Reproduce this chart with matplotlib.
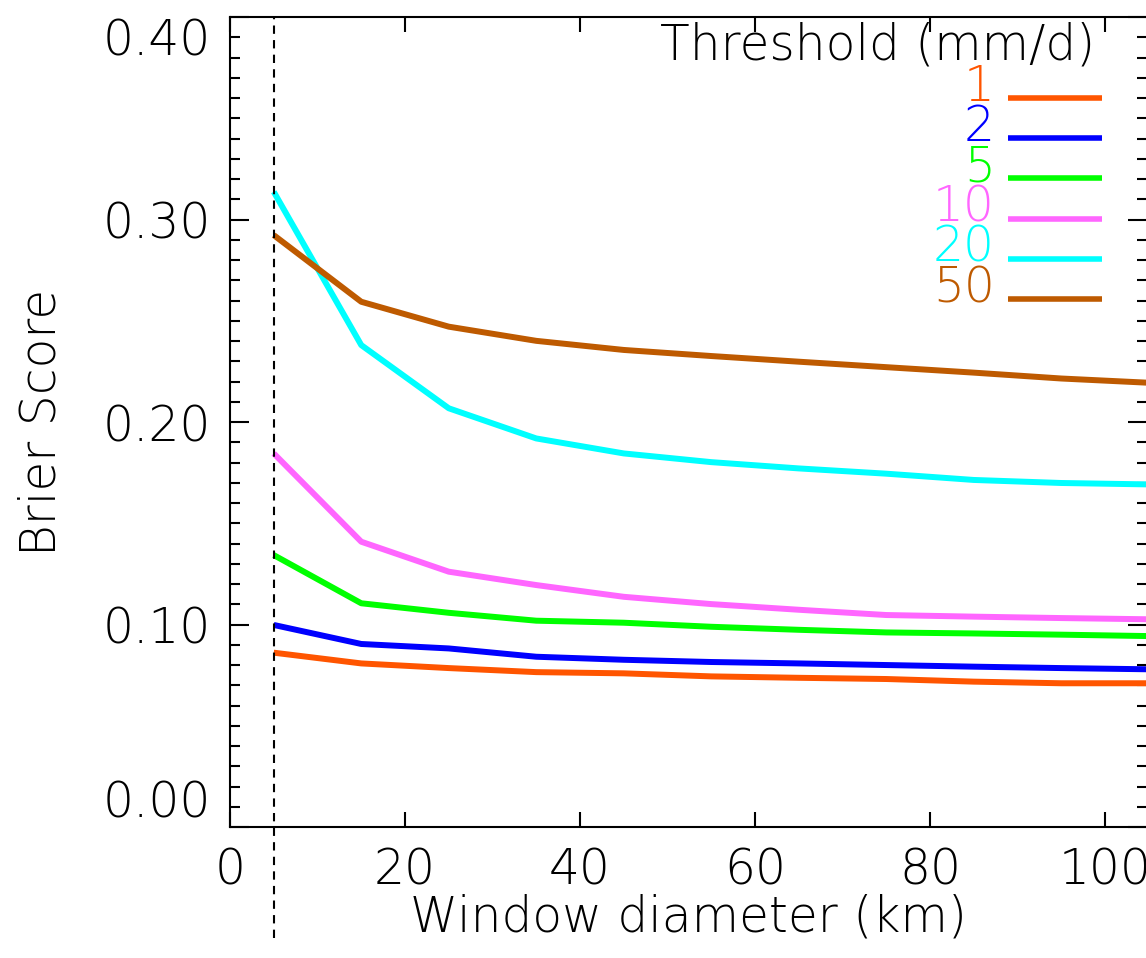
import matplotlib
matplotlib.use("Agg")
import matplotlib.pyplot as plt

# window diameter (km)
diam = [5, 15, 25, 35, 45, 55, 65, 75, 85, 95, 105]

# Brier score per threshold (mm/d)
bs_1 = [0.0861, 0.0808, 0.0785, 0.0765, 0.0759, 0.0744, 0.0737, 0.0731, 0.0718, 0.0710, 0.0710]
bs_2 = [0.0998, 0.0904, 0.0882, 0.0841, 0.0826, 0.0815, 0.0808, 0.0800, 0.0792, 0.0785, 0.0779]
bs_5 = [0.1343, 0.1105, 0.1058, 0.1019, 0.1009, 0.0989, 0.0974, 0.0961, 0.0956, 0.0950, 0.0943]
bs_10 = [0.1845, 0.1409, 0.1261, 0.1195, 0.1137, 0.1101, 0.1073, 0.1047, 0.1039, 0.1032, 0.1026]
bs_20 = [0.3137, 0.2380, 0.2068, 0.1919, 0.1845, 0.1802, 0.1771, 0.1745, 0.1714, 0.1699, 0.1692]
bs_50 = [0.2923, 0.2594, 0.2471, 0.2401, 0.2356, 0.2326, 0.2298, 0.2271, 0.2244, 0.2215, 0.2194]

thresholds = ["1", "2", "5", "10", "20", "50"]
series = [bs_1, bs_2, bs_5, bs_10, bs_20, bs_50]
colors = ["#FF5500", "#0000FF", "#00FF00", "#FF66FF", "#00FFFF", "#BE5A00"]

grid_km = 5  # dashed reference line

plt.rcParams["font.family"] = ["DejaVu Sans"]
plt.rcParams["font.weight"] = "light"
plt.rcParams["axes.labelweight"] = "light"
fs = 35

fig = plt.figure(figsize=(11.46, 9.58), dpi=100)
ax = fig.add_axes([0.2007, 0.1367, 917 / 1146, 810 / 958])

for vals, c in zip(series, colors):
    ax.plot(diam, vals, color=c, lw=4.3, solid_capstyle="butt")

ax.axvline(grid_km, ymin=-0.137, ymax=1, color="black", lw=1.5,
           ls=(0, (4, 3)), clip_on=False)

ax.set_xlim(0, 104.8)
ax.set_ylim(0, 0.40)
ax.set_xticks([0, 20, 40, 60, 80, 100])
ax.set_yticks([0.0, 0.1, 0.2, 0.3, 0.4])
ax.set_yticklabels(["%.2f" % v for v in [0.0, 0.1, 0.2, 0.3, 0.4]])
ax.set_yticks([i / 100 for i in range(41)], minor=True)

ax.tick_params(axis="both", which="major", direction="in", top=True, right=True,
               length=14, width=1.5, labelsize=fs, pad=14)
ax.tick_params(axis="y", which="minor", direction="in", right=True,
               length=7, width=1.5)
ax.tick_params(axis="x", which="major", length=11)
for s in ax.spines.values():
    s.set_linewidth(1.5)

ylabs = ax.get_yticklabels()
ylabs[0].set_va("bottom")
ylabs[-1].set_va("top")

ax.set_xlabel("Window diameter (km)", fontsize=fs)
ax.set_ylabel("Brier Score", fontsize=fs)
ax.xaxis.set_label_coords(0.5, -0.082)
ax.yaxis.set_label_coords(-0.179, 0.5)

# legend drawn by hand, IDL style
ax.text(0.943, 0.947, "Threshold (mm/d)", transform=ax.transAxes,
        ha="right", va="baseline", fontsize=fs)
for i, (lab, c) in enumerate(zip(thresholds, colors)):
    yy = 0.900 - i * 0.0496
    ax.plot([0.848, 0.951], [yy, yy], color=c, lw=4, transform=ax.transAxes,
            clip_on=False, solid_capstyle="butt")
    ax.text(0.834, yy - 0.004, lab, color=c, transform=ax.transAxes,
            ha="right", va="baseline", fontsize=fs)

fig.savefig("out.png", dpi=100)
